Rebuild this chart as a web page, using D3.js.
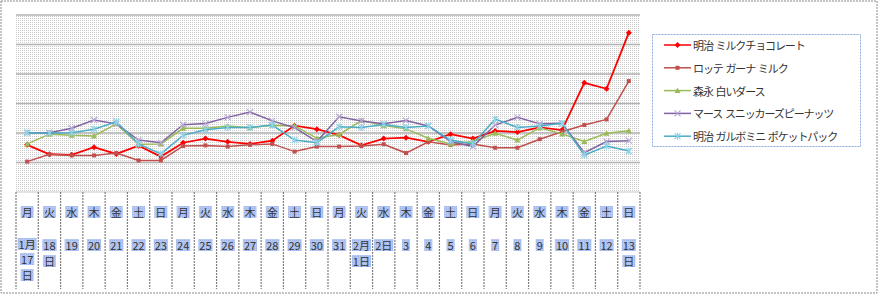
<!DOCTYPE html>
<html>
<head>
<meta charset="utf-8">
<script src="https://cdn.jsdelivr.net/npm/d3@7"></script>
<style>
  body { margin: 0; background: #fff; }
  svg { display: block; font-family: "Noto Sans CJK JP", "Noto Sans", sans-serif; }
</style>
</head>
<body>
<svg id="canvas" width="879" height="295"></svg>
<script>
// days (1/17 .. 2/13)
const weekdays = ["月","火","水","木","金","土","日","月","火","水","木","金","土","日",
                  "月","火","水","木","金","土","日","月","火","水","木","金","土","日"]
// date labels, "|" = line break in the cell
const dateLabels = ["1月|17|日","18|日","19","20","21","22","23","24","25","26","27","28","29","30",
                    "31","2月|1日","2日","3","4","5","6","7","8","9","10","11","12","13|日"]

const seriesNames = ["明治 ミルクチョコレート","ロッテ ガーナ ミルク","森永 白いダース",
                     "マース スニッカーズピーナッツ","明治 ガルボミニ ポケットパック"]

const meijiMilk = [16.0,12.8,12.6,15.2,12.9,15.7,12.0,16.7,18.1,17.0,16.3,17.4,22.5,21.3,
                   19.3,15.8,18.1,18.4,17.0,19.6,18.1,20.7,20.3,21.9,21.0,37.0,35.0,54.0]
const ghana     = [10.3,12.8,12.4,12.4,13.2,10.7,10.7,15.6,15.8,15.4,16.0,16.3,13.7,15.4,
                   15.4,15.6,16.2,13.2,17.0,15.9,16.3,15.0,15.0,17.9,20.4,22.7,24.6,37.6]
const whiteDars = [16.3,19.6,19.2,19.0,23.1,16.2,16.3,21.6,21.6,22.4,21.8,22.6,22.4,18.2,
                   19.5,24.2,22.5,21.4,18.2,16.3,17.1,19.9,17.6,21.8,19.7,17.1,19.9,20.8]
const snickers  = [20.1,20.1,21.6,24.4,23.1,17.6,16.7,22.8,23.2,25.3,27.1,24.1,21.8,17.1,
                   25.5,24.1,23.1,24.2,22.4,17.1,15.4,22.7,25.3,23.1,23.3,13.3,17.1,17.4]
const galbo     = [20.1,19.9,20.1,21.3,23.8,16.3,12.9,19.2,21.1,21.9,21.9,22.7,17.6,16.7,
                   22.1,21.9,22.9,21.9,22.4,17.6,16.3,24.7,21.9,22.4,23.3,12.5,15.6,13.9]

const yTicks = [10,20,30,40,50,60]

const seriesVals = [meijiMilk, ghana, whiteDars, snickers, galbo]
const lineColors = ["#ff0000","#c0504d","#9bbb59","#8064a2","#4bacc6"]
const markColors = ["#ff0000","#c0504d","#9bbb59","#b9a6d6","#8fd3e6"]
const markTypes  = ["diamond","square","triangle","x","star"]

const svg = d3.select("#canvas")
const plotL = 16, plotR = 640, plotT = 15, plotB = 192

// dotted pattern for plot area
const defs = svg.append("defs")
const pat = defs.append("pattern").attr("id","dots")
  .attr("width",2).attr("height",2).attr("patternUnits","userSpaceOnUse")
pat.append("rect").attr("width",2).attr("height",2).attr("fill","#fff")
pat.append("rect").attr("width",1).attr("height",1).attr("fill","#cacaca")
const pat2 = defs.append("pattern").attr("id","hl")
  .attr("width",2).attr("height",2).attr("patternUnits","userSpaceOnUse")
pat2.append("rect").attr("width",2).attr("height",2).attr("fill","#b7c8f0")
pat2.append("rect").attr("width",1).attr("height",1).attr("fill","#9fb4e8")

const x = d3.scaleBand().domain(d3.range(weekdays.length)).range([plotL, plotR])
const y = d3.scaleLinear().domain([0, 60]).range([plotB, plotT])

svg.append("rect").attr("x",1).attr("y",1).attr("width",876).attr("height",292)
  .attr("fill","#fff").attr("stroke","#8a8a8a").attr("stroke-dasharray","2,1")

svg.append("rect").attr("x",plotL).attr("y",plotT)
  .attr("width",plotR-plotL).attr("height",plotB-plotT).attr("fill","url(#dots)")

// gridlines
svg.append("g").selectAll("line").data(yTicks).join("line")
  .attr("x1",plotL).attr("x2",plotR)
  .attr("y1",d=>y(d)).attr("y2",d=>y(d))
  .attr("stroke","#b2b2b2").attr("stroke-width",1.5)

// table under the chart
const tbl = svg.append("g")
tbl.append("line").attr("x1",plotL).attr("x2",plotR).attr("y1",plotB).attr("y2",plotB)
  .attr("stroke","#c8c8c8")
const bounds = d3.range(weekdays.length+1).map(i => i < weekdays.length ? x(i) : plotR)
tbl.selectAll("line.v").data(bounds).join("line").attr("class","v")
  .attr("x1",d=>d).attr("x2",d=>d).attr("y1",plotB).attr("y2",289)
  .attr("stroke","#7f7f7f").attr("stroke-width",1.2).attr("stroke-dasharray","2,1")

function cellText(cx, cy, txt) {
  const t = tbl.append("text").attr("x",cx).attr("y",cy)
    .attr("text-anchor","middle").attr("dominant-baseline","central")
    .attr("font-size",11).attr("fill","#333").text(txt)
  const bb = t.node().getBBox()
  tbl.insert("rect","text").attr("x",bb.x-1).attr("y",bb.y+2)
    .attr("width",bb.width+2).attr("height",bb.height-4).attr("fill","url(#hl)")
}
weekdays.forEach((d,i) => {
  const cx = x(i) + x.bandwidth()/2
  cellText(cx, 212, d)
  const parts = dateLabels[i].split("|")
  const ys = parts.length === 3 ? [244, 259, 275] : [245, 261]
  parts.forEach((p,k) => cellText(cx, ys[k], p))
})

// series
const cx = i => x(i) + x.bandwidth()/2
function marker(g, type, color) {
  if (type === "diamond") {
    g.append("path").attr("d","M0,-3L3,0L0,3L-3,0Z").attr("fill",color)
  } else if (type === "square") {
    g.append("rect").attr("x",-2).attr("y",-2).attr("width",4).attr("height",4).attr("fill",color)
  } else if (type === "triangle") {
    g.append("path").attr("d","M0,-3L3,2.5L-3,2.5Z").attr("fill",color)
  } else if (type === "x") {
    g.append("path").attr("d","M-3,-3L3,3M-3,3L3,-3").attr("stroke",color).attr("stroke-width",1.2)
  } else {
    g.append("path").attr("d","M-3,-3L3,3M-3,3L3,-3M0,-3.5L0,3.5").attr("stroke",color).attr("stroke-width",1.2)
  }
}
const line = d3.line().x((d,i)=>cx(i)).y(d=>y(d))
seriesVals.forEach((vals, s) => {
  svg.append("path").datum(vals).attr("d",line).attr("fill","none")
    .attr("stroke",lineColors[s]).attr("stroke-width", s === 0 ? 1.8 : 1.5)
  vals.forEach((v,i) => {
    const g = svg.append("g").attr("transform",`translate(${cx(i)},${y(v)})`)
    marker(g, markTypes[s], markColors[s])
  })
})

// legend (names use a wide gap between words, as in the original)
const lg = svg.append("g")
lg.append("rect").attr("x",652.5).attr("y",34.5).attr("width",208).attr("height",112)
  .attr("fill","#fff").attr("stroke","#8faadc").attr("stroke-dasharray","2,1")
seriesNames.forEach((n,s) => {
  const ly = 45 + s*22.8
  lg.append("line").attr("x1",664).attr("x2",691).attr("y1",ly).attr("y2",ly)
    .attr("stroke",lineColors[s]).attr("stroke-width",1.5)
  marker(lg.append("g").attr("transform",`translate(677.5,${ly})`), markTypes[s], markColors[s])
  lg.append("text").attr("x",693).attr("y",ly).attr("dominant-baseline","central")
    .attr("font-size",11).attr("letter-spacing",-1.1)
    .attr("fill","#333").text(n.replace(/ /g, "\u00a0\u00a0"))
})
</script>
</body>
</html>
